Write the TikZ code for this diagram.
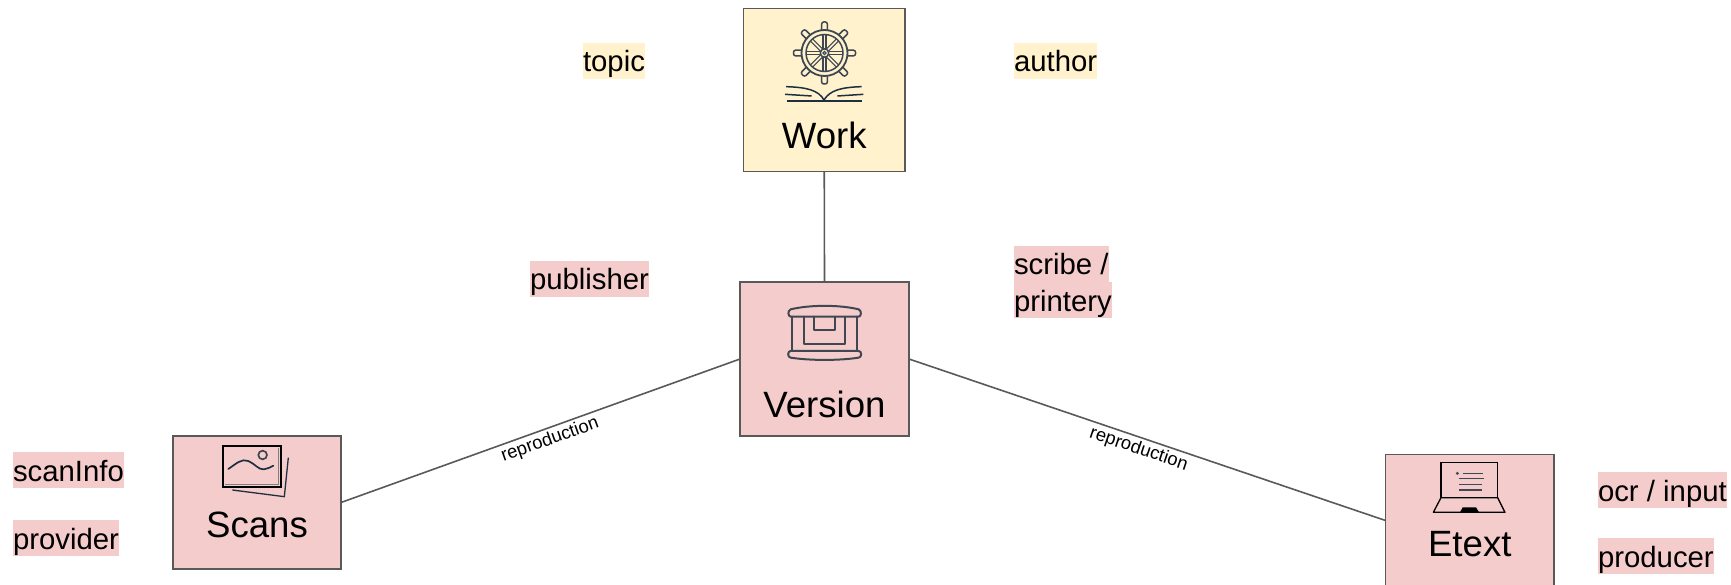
\documentclass[tikz,border=0pt]{standalone}
\usepackage{fontspec}
\setmainfont{Liberation Sans}
\definecolor{pinkfill}{HTML}{F4CCCC}
\definecolor{yellowfill}{HTML}{FFF2CC}
\definecolor{edgegray}{HTML}{595959}
\definecolor{iconslate}{HTML}{3F4852}
\definecolor{iconnavy}{HTML}{1F2F42}
\tikzset{
  boxnode/.style={draw=edgegray,line width=1.5pt,inner sep=0pt,outer sep=0pt,anchor=north west,align=center,font=\fontsize{36.6}{40}\selectfont},
  tag/.style={inner sep=0pt,outer sep=0pt,anchor=north west,text height=29pt,text depth=7pt,font=\fontsize{29.33}{36}\selectfont},
  link/.style={draw=edgegray,line width=1.6pt},
  linklabel/.style={font=\fontsize{18.4}{20}\selectfont,sloped,inner sep=2.5pt},
  iconline/.style={line width=2pt,line join=round,line cap=round}
}
\begin{document}
\begin{tikzpicture}[x=1pt,y=-1pt]
\useasboundingbox (0,0) rectangle (1731,585);
\clip (0,0) rectangle (1731,585);
% boxes
\node[boxnode,fill=yellowfill,text width=161.5pt,text height=140pt,text depth=23pt] (work) at (743.5,8.5) {Work};
\node[boxnode,fill=pinkfill,text width=169pt,text height=135pt,text depth=19pt] (version) at (740,282) {Version};
\node[boxnode,fill=pinkfill,text width=168pt,text height=101pt,text depth=32pt] (scans) at (173,436) {Scans};
\node[boxnode,fill=pinkfill,text width=168.5pt,text height=102pt,text depth=30pt] (etext) at (1385.5,454.5) {Etext};
% connectors
\draw[link] (work.south) -- (version.north);
\draw[link] (version.west) -- node[linklabel,pos=.486,below] (repa) {reproduction} (scans.east);
\draw[link] (version.east) -- node[linklabel,pos=.49,below] (repb) {reproduction} (etext.west);
% tags
\node[tag,fill=yellowfill] (topic) at (583,43) {topic};
\node[tag,fill=yellowfill] (author) at (1014,43) {author};
\node[tag,fill=pinkfill] (publisher) at (530,261) {publisher};
\node[tag,fill=pinkfill] (scribe) at (1014,246) {scribe /};
\node[tag,fill=pinkfill] (printery) at (1014,282) {printery};
\node[tag,fill=pinkfill] (scaninfo) at (13,452) {scanInfo};
\node[tag,fill=pinkfill] (provider) at (13,520) {provider};
\node[tag,fill=pinkfill] (ocr) at (1598,472) {ocr / input};
\node[tag,fill=pinkfill] (producer) at (1598,538) {producer};
% wheel icon
\begin{scope}[shift={(824.5,53)},draw=iconslate]
  \foreach \a in {0,45,...,315}{
    \draw[line width=1.5pt,rotate=\a,fill=yellowfill,rounded corners=2pt] (20,-2.8) rectangle (31,2.8);
    \draw[line width=1.2pt] (\a:4) ++(\a+90:1.5) -- ++(\a:14.5);
    \draw[line width=1.2pt] (\a:4) ++(\a-90:1.5) -- ++(\a:14.5);
  }
  \draw[line width=1.8pt,fill=yellowfill] (0,0) circle (23);
  \draw[line width=1.5pt] (0,0) circle (18.5);
  \foreach \a in {0,45,...,315}{
    \draw[line width=1.2pt] (\a:4) ++(\a+90:1.5) -- ++(\a:14.5);
    \draw[line width=1.2pt] (\a:4) ++(\a-90:1.5) -- ++(\a:14.5);
  }
  \draw[line width=1.4pt,fill=yellowfill] (0,0) circle (4.2);
  \draw[line width=1.2pt] (0,0) circle (1.6);
\end{scope}
% book icon
\begin{scope}[shift={(720,0)},x=.3333pt,y=-.3333pt]
  \draw[iconnavy,line width=1.5pt] (198,260) .. controls (260,262) and (295,270) .. (312,300) .. controls (330,270) and (365,262) .. (425,260);
  \draw[iconnavy,line width=1.5pt] (195,283) -- (275,288);
  \draw[iconnavy,line width=1.5pt] (352,288) -- (430,283);
  \draw[iconnavy,line width=1.9pt] (200,302) -- (425,302);
\end{scope}
% version icon
\begin{scope}[shift={(720,270)},x=.3333pt,y=-.3333pt,draw=iconslate]
  \draw[iconline] (212,140) .. controls (204,140) and (202,122) .. (212,118) .. controls (270,104) and (358,104) .. (416,118) .. controls (426,122) and (424,140) .. (416,140) -- cycle;
  \draw[iconline] (212,243) .. controls (202,243) and (202,262) .. (212,263) .. controls (270,272) and (358,272) .. (416,263) .. controls (426,262) and (426,243) .. (416,243) -- cycle;
  \draw[iconline] (215,140) -- (215,243);
  \draw[iconline] (410,140) -- (410,243);
  \draw[iconline] (251,140) -- (251,222) -- (375,222) -- (375,140);
  \draw[iconline] (282,140) -- (282,180) -- (345,180) -- (345,140);
\end{scope}
% scans icon
\begin{scope}[shift={(160,425)},x=.3333pt,y=-.3333pt]
  \draw[iconnavy,line width=1.3pt] (385,98) -- (373,215) -- (217,195);
  \draw[gray,line width=.8pt] (195,178) -- (355,178) -- (355,68);
  \draw[black,line width=2.1pt] (188,62) rectangle (362,185);
  \draw[iconnavy,line width=1.7pt,line cap=round] (205,132) .. controls (230,115) and (245,100) .. (265,108) .. controls (285,116) and (295,135) .. (312,133) .. controls (322,132) and (332,126) .. (340,122);
  \draw[iconslate,line width=1.7pt] (308,90) circle (13);
\end{scope}
% etext icon
\begin{scope}[shift={(1370,445)},x=.3333pt,y=-.3333pt]
  \draw[black,line width=1.3pt] (213,158) -- (213,52) -- (383,52) -- (383,158);
  \draw[black,line width=1.3pt,line join=round] (213,158) -- (383,158) -- (405,202) -- (190,202) -- cycle;
  \fill[black] (270,202) -- (278,187) -- (318,187) -- (327,202) -- cycle;
  \fill[iconslate] (262,85) circle (5);
  \draw[iconslate,line width=1.1pt] (280,85) -- (340,85);
  \draw[iconslate,line width=1.1pt] (268,100) -- (342,100);
  \draw[iconslate,line width=1.1pt] (268,118) -- (337,118);
  \draw[iconslate,line width=1.1pt] (268,135) -- (337,135);
\end{scope}
\end{tikzpicture}
\end{document}
